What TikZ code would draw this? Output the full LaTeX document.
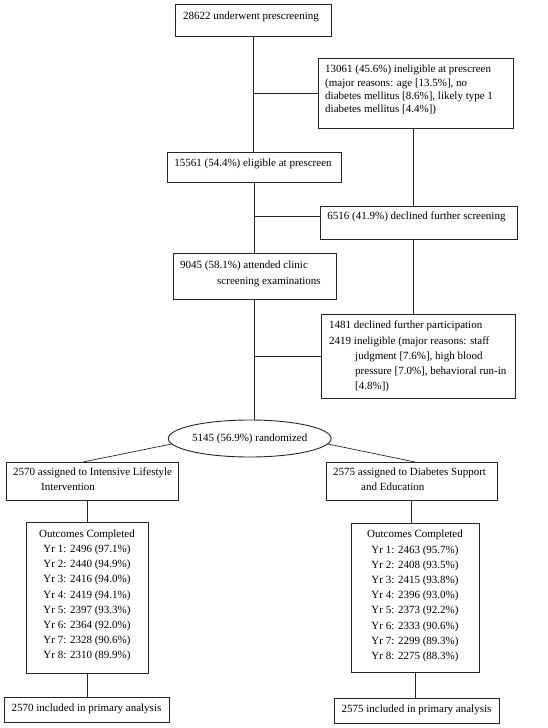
\documentclass[tikz,border=0pt]{standalone}
\usepackage{fontspec}
\setmainfont{Liberation Serif}
\usetikzlibrary{shapes.geometric,calc}
\newcommand\mybox[5]{\node[box, minimum width=#4-#2, minimum height=#5-#3] (#1) at (#2,#3) {};}
\newcommand\fl{\rule{0pt}{9pt}}
\begin{document}
\begin{tikzpicture}[x=1pt,y=-1pt,
  box/.style={draw=black!85, line width=0.9pt, inner sep=0pt, outer sep=0pt, anchor=north west},
  link/.style={draw=black!85, line width=0.7pt},
  txt/.style={inner sep=0pt, anchor=north west, align=left, font=\fontsize{11}{15.2}\selectfont},
  ctxt/.style={inner sep=0pt, anchor=north, align=center, font=\fontsize{11}{15.2}\selectfont},
  ell/.style={draw=black!85, line width=0.9pt, ellipse, inner sep=0pt, outer sep=0pt, font=\fontsize{11}{13}\selectfont}]
\fill[white] (0,0) rectangle (548,728);
\useasboundingbox (0,0) rectangle (548,728);

% boxes
\mybox{b1}{175}{4}{331}{36}
\mybox{inel}{318}{58}{513}{128}
\mybox{b15561}{167}{152}{341}{182}
\mybox{b6516}{320}{206}{517}{239}
\mybox{b9045}{173}{253}{336}{299}
\mybox{b1481}{321}{314}{515}{398}
\node[ell, minimum width=158, minimum height=37] (ell) at (249.7,438.5) {5145 (56.9\%) randomized};
\mybox{b2570}{6}{462}{178}{500}
\mybox{b2575}{326}{462}{497}{500}
\mybox{oL}{26}{522}{148}{673}
\mybox{oR}{351}{523}{479}{672}
\mybox{iL}{4}{697}{169}{722}
\mybox{iR}{334}{698}{499}{723}

% texts
\node[ctxt] (t1) at (251,10.7) {\fl 28622 underwent prescreening};
\node[txt, font=\fontsize{11}{13.3}\selectfont] (tinel) at (325,63.7) {\fl 13061 (45.6\%) ineligible at prescreen\\(major reasons: age [13.5\%], no\\diabetes mellitus [8.6\%], likely type 1\\diabetes mellitus [4.4\%])};
\node[ctxt] (t15561) at (253,157.7) {\fl 15561 (54.4\%) eligible at prescreen};
\node[ctxt] (t6516) at (416.5,210.7) {\fl 6516 (41.9\%) declined further screening};
\node[txt] (t9045) at (180,259.7) {\fl 9045 (58.1\%) attended clinic\\\hspace*{37pt}screening examinations};
\node[txt] (t1481) at (329,319.7) {\fl 1481 declined further participation\\2419 ineligible (major reasons: staff\\\hspace*{26pt}judgment [7.6\%], high blood\\\hspace*{26pt}pressure [7.0\%], behavioral run-in\\\hspace*{26pt}[4.8\%])};
\node[txt, font=\fontsize{11}{15}\selectfont] (t2570) at (13,466.7) {\fl 2570 assigned to Intensive Lifestyle\\\hspace*{28pt}Intervention};
\node[txt, font=\fontsize{11}{15}\selectfont] (t2575) at (333,466.7) {\fl 2575 assigned to Diabetes Support\\\hspace*{28pt}and Education};
\node[ctxt] (toL) at (87,528) {\fl Outcomes Completed\\Yr 1: 2496 (97.1\%)\\Yr 2: 2440 (94.9\%)\\Yr 3: 2416 (94.0\%)\\Yr 4: 2419 (94.1\%)\\Yr 5: 2397 (93.3\%)\\Yr 6: 2364 (92.0\%)\\Yr 7: 2328 (90.6\%)\\Yr 8: 2310 (89.9\%)};
\node[ctxt] (toR) at (415,528.7) {\fl Outcomes Completed\\Yr 1: 2463 (95.7\%)\\Yr 2: 2408 (93.5\%)\\Yr 3: 2415 (93.8\%)\\Yr 4: 2396 (93.0\%)\\Yr 5: 2373 (92.2\%)\\Yr 6: 2333 (90.6\%)\\Yr 7: 2299 (89.3\%)\\Yr 8: 2275 (88.3\%)};
\node[ctxt] (tiL) at (86.5,702.7) {\fl 2570 included in primary analysis};
\node[ctxt] (tiR) at (416.5,703.7) {\fl 2575 included in primary analysis};

% connectors
\coordinate (rx) at (413,0);
\coordinate (h2) at ($(b6516.north west)+(0,10)$);
\coordinate (eL) at ($(b2570.north west)+(77,0)$);
\coordinate (eR) at ($(b2575.north west)+(89,0)$);
\draw[link] (b1.south) -- (b1.south |- b15561.north);
\draw[link] (inel.west) -- (b1.south |- inel.west);
\draw[link] (rx |- inel.south) -- (rx |- b6516.north);
\draw[link] (b15561.south) -- (b15561.south |- b9045.north);
\draw[link] (h2) -- (b15561.south |- h2);
\draw[link] (rx |- b6516.south) -- (rx |- b1481.north);
\draw[link] (b9045.south) -- (b9045.south |- ell.north);
\draw[link] (b1481.west) -- (b9045.south |- b1481.west);
\draw[link] (ell.184) -- (eL);
\draw[link] (ell.-4) -- (eR);
\draw[link] (b2570.south -| oL.north) -- (oL.north);
\draw[link] (oL.south) -- (oL.south |- iL.north);
\draw[link] (b2575.south) -- (b2575.south |- oR.north);
\draw[link] (oR.south) -- (oR.south |- iR.north);
\end{tikzpicture}
\end{document}
